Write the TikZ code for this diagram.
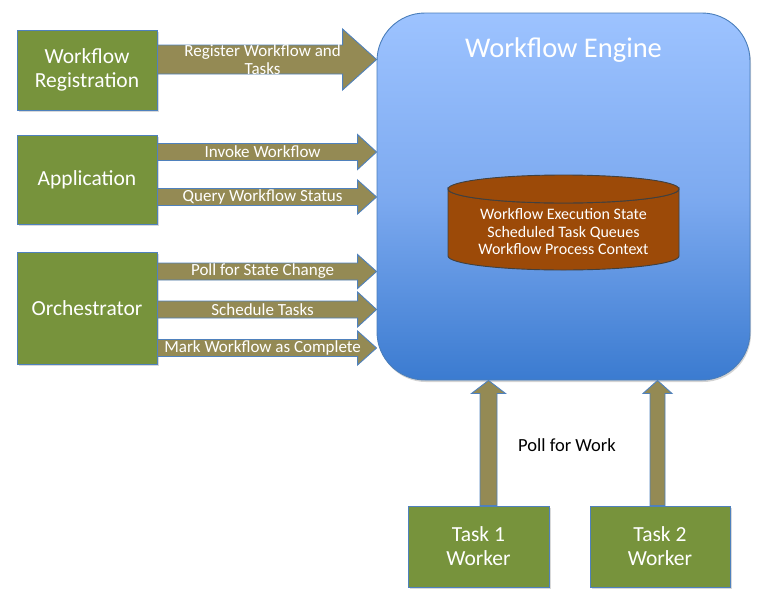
\documentclass[tikz,border=0pt]{standalone}
\usepackage{fontspec}
\setmainfont{Carlito}
\usetikzlibrary{calc,shadows}
\definecolor{boxgreen}{HTML}{77933C}
\definecolor{boxedge}{HTML}{4F81BD}
\definecolor{arrfill}{HTML}{948A54}
\definecolor{engtop}{HTML}{9DC3FF}
\definecolor{engmid}{HTML}{7DAAF0}
\definecolor{engbot}{HTML}{3B7BD0}
\definecolor{engedge}{HTML}{4A7EBB}
\definecolor{cylfill}{HTML}{9C4A08}
\newcommand\harrow[7]{% #1 from, #2 tip, #3 half shaft, #4 half head, #5 head length, #6 name, #7 label
  \draw[fatarr] let \p1=(#1), \p2=(#2) in
    (\x1,\y1+#3pt) -- (\x2-#5pt,\y2+#3pt) -- (\x2-#5pt,\y2+#4pt) -- (\x2,\y2)
    -- (\x2-#5pt,\y2-#4pt) -- (\x2-#5pt,\y2-#3pt) -- (\x1,\y1-#3pt) -- cycle;
  \node[arrlabel] (#6) at ($(#1)!0.48!(#2)$) {#7};}
\newcommand\varrow[5]{% #1 from, #2 tip (above), #3 half shaft, #4 half head, #5 head length
  \draw[fatarr] let \p1=(#1), \p2=(#2) in
    (\x1+#3pt,\y1) -- (\x2+#3pt,\y2-#5pt) -- (\x2+#4pt,\y2-#5pt) -- (\x2,\y2)
    -- (\x2-#4pt,\y2-#5pt) -- (\x2-#3pt,\y2-#5pt) -- (\x1-#3pt,\y1) -- cycle;}
\begin{document}
\begin{tikzpicture}[x=1pt,y=-1pt,
  gbox/.style={draw=boxedge, line width=0.9pt, fill=boxgreen, text=white,
    align=center, inner sep=0pt, font=\fontsize{21.5}{24}\selectfont,
    drop shadow={opacity=0.3, shadow xshift=1.5pt, shadow yshift=-1.5pt}},
  fatarr/.style={draw=boxedge, line width=0.9pt, fill=arrfill},
  arrlabel/.style={text=white, align=center, inner sep=0pt, font=\fontsize{17}{18.5}\selectfont},
  engine/.style={draw=engedge, line width=0.9pt, rounded corners=48pt,
    top color=engtop, bottom color=engbot, middle color=engmid,
    drop shadow={opacity=0.35, shadow xshift=1pt, shadow yshift=-2pt}},
  cyl/.style={draw=black!75, line width=0.9pt, fill=cylfill},
  cyltext/.style={text=white, align=center, inner sep=0pt, font=\fontsize{16}{17.5}\selectfont}]
\useasboundingbox (0,0) rectangle (761,600);

% engine
\node[engine, minimum width=373pt, minimum height=367pt] (eng) at (563.5,196.5) {};
\node[text=white, inner sep=0pt, font=\fontsize{28.5}{31}\selectfont] (engtitle) at (563.5,50) {Workflow Engine};

% data store
\path[cyl] (448,189) -- (448,256) arc[start angle=180, end angle=0, x radius=115.5, y radius=14]
  -- (679,189) arc[start angle=0, end angle=180, x radius=115.5, y radius=14] -- cycle;
\draw[cyl] (563.5,189) ellipse[x radius=115.5, y radius=14];
\node[cyltext] (store) at (563.5,231.5) {Workflow Execution State\\Scheduled Task Queues\\Workflow Process Context};

% client boxes
\node[gbox, minimum width=140pt, minimum height=80pt] (reg) at (87,70) {Workflow\\Registration};
\node[gbox, minimum width=140pt, minimum height=89pt] (app) at (87,179.5) {Application};
\node[gbox, minimum width=140pt, minimum height=112pt] (orc) at (87,308) {Orchestrator};

% horizontal arrows
\harrow{reg.east |- 0,59.5}{eng.west |- 0,59.5}{14.5}{30.5}{34}{lreg}{Register Workflow and\\Tasks}
\harrow{app.east |- 0,152}{eng.west |- 0,152}{8.5}{17.5}{19}{linv}{Invoke Workflow}
\harrow{app.east |- 0,197}{eng.west |- 0,197}{8.5}{17}{19}{lqry}{Query Workflow Status}
\harrow{orc.east |- 0,271.5}{eng.west |- 0,271.5}{8.5}{17}{19}{lpol}{Poll for State Change}
\harrow{orc.east |- 0,309.5}{eng.west |- 0,309.5}{8.5}{17.5}{19}{lsch}{Schedule Tasks}
\harrow{orc.east |- 0,348}{eng.west |- 0,348}{8.5}{17}{19}{lmrk}{Mark Workflow as Complete}

% workers
\node[gbox, minimum width=141pt, minimum height=81pt] (t1) at (478.5,546.5) {Task 1\\Worker};
\node[gbox, minimum width=140pt, minimum height=81pt] (t2) at (660,546.5) {Task 2\\Worker};
\varrow{t1.north -| 488.5,0}{eng.south -| 488.5,0}{8.5}{17}{13}
\varrow{t2.north -| 657.5,0}{eng.south -| 657.5,0}{7.5}{14.5}{13}
\node[inner sep=0pt, font=\fontsize{18.5}{21}\selectfont] (pollwork) at (567,445) {Poll for Work};
\end{tikzpicture}
\end{document}
